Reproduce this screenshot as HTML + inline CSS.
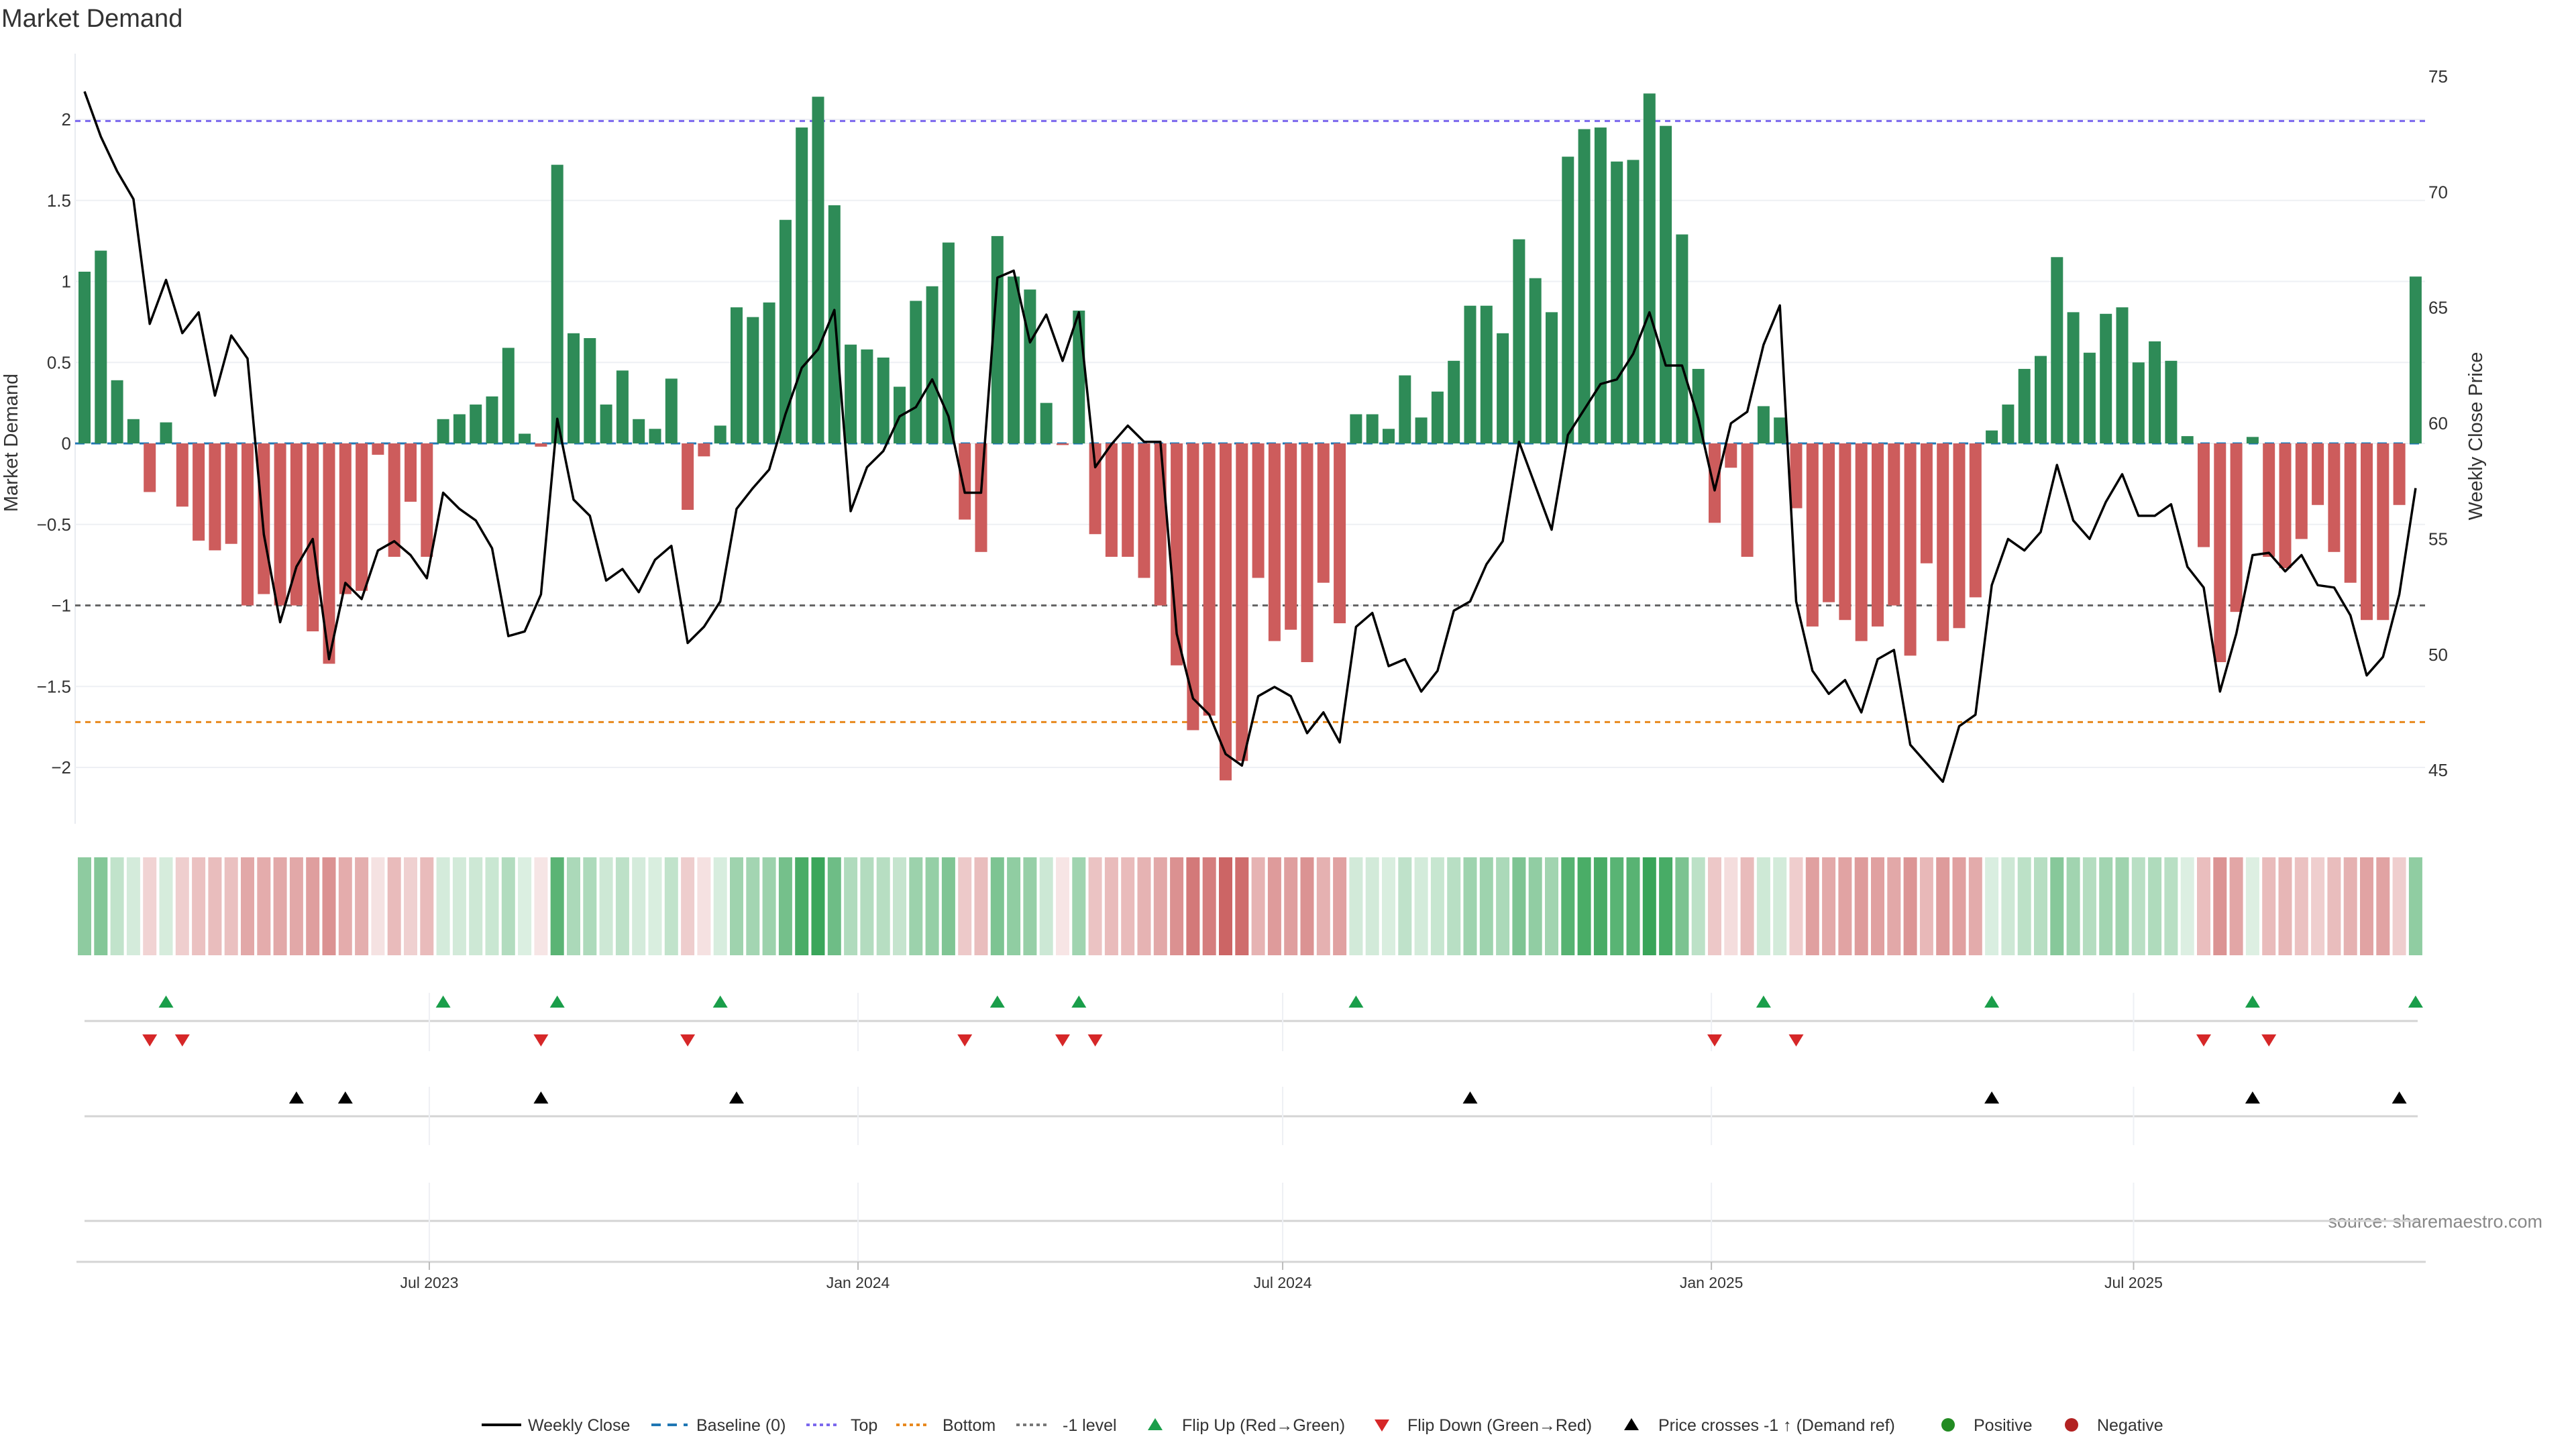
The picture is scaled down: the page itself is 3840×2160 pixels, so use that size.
<!DOCTYPE html>
<html><head><meta charset="utf-8"><title>Market Demand</title>
<style>
html,body{margin:0;padding:0;background:#fff;}
svg{display:block;font-family:"Liberation Sans","DejaVu Sans",sans-serif;}
</style></head>
<body>
<svg id="chart" xmlns="http://www.w3.org/2000/svg" width="3840" height="2160" viewBox="0 0 3840 2160">
<rect x="0" y="0" width="3840" height="2160" fill="#fff"/>
<text x="2" y="40" font-size="38" fill="#333">Market Demand</text>
<text transform="translate(26,660) rotate(-90)" text-anchor="middle" font-size="29" fill="#333">Market Demand</text>
<text transform="translate(3700,650) rotate(-90)" text-anchor="middle" font-size="29" fill="#333">Weekly Close Price</text>
<text x="3790" y="1830" text-anchor="end" font-size="27" fill="#888">source: sharemaestro.com</text>
<g id="g-grid"></g><g id="g-base"></g><g id="g-bars"></g><g id="g-line"></g><g id="g-heat"></g><g id="g-marks"></g><g id="g-legend"></g>
</svg>
<script>
const demand = [1.06,1.19,0.39,0.15,-0.30,0.13,-0.39,-0.60,-0.66,-0.62,
-1.00,-0.93,-1.00,-1.00,-1.16,-1.36,-0.93,-0.91,-0.07,-0.70,
-0.36,-0.70,0.15,0.18,0.24,0.29,0.59,0.06,-0.02,1.72,
0.68,0.65,0.24,0.45,0.15,0.09,0.40,-0.41,-0.08,0.11,
0.84,0.78,0.87,1.38,1.95,2.14,1.47,0.61,0.58,0.53,
0.35,0.88,0.97,1.24,-0.47,-0.67,1.28,1.03,0.95,0.25,
-0.01,0.82,-0.56,-0.70,-0.70,-0.83,-1.00,-1.37,-1.77,-1.68,
-2.08,-1.96,-0.83,-1.22,-1.15,-1.35,-0.86,-1.11,0.18,0.18,
0.09,0.42,0.16,0.32,0.51,0.85,0.85,0.68,1.26,1.02,
0.81,1.77,1.94,1.95,1.74,1.75,2.16,1.96,1.29,0.46,
-0.49,-0.15,-0.70,0.23,0.16,-0.40,-1.13,-0.98,-1.09,-1.22,
-1.13,-1.00,-1.31,-0.74,-1.22,-1.14,-0.95,0.08,0.24,0.46,
0.54,1.15,0.81,0.56,0.80,0.84,0.50,0.63,0.51,0.045,
-0.64,-1.35,-1.04,0.04,-0.70,-0.77,-0.59,-0.38,-0.67,-0.86,
-1.09,-1.09,-0.38,1.03];
const price = [74.35,72.4,70.9,69.7,64.3,66.2,63.9,64.8,61.2,63.8,
62.8,55.2,51.4,53.8,55.0,49.8,53.1,52.4,54.5,54.9,
54.3,53.3,57.0,56.3,55.8,54.6,50.8,51.0,52.6,60.2,
56.7,56.0,53.2,53.7,52.7,54.1,54.7,50.5,51.2,52.3,
56.3,57.2,58.0,60.4,62.4,63.2,64.9,56.2,58.1,58.8,
60.3,60.7,61.9,60.3,57.0,57.0,66.3,66.6,63.5,64.7,
62.7,64.8,58.1,59.1,59.9,59.2,59.2,50.9,48.1,47.4,
45.7,45.2,48.2,48.6,48.2,46.6,47.5,46.2,51.2,51.8,
49.5,49.8,48.4,49.3,51.9,52.3,53.9,54.9,59.2,57.3,
55.4,59.5,60.6,61.7,61.9,63.0,64.8,62.5,62.5,60.2,
57.1,60.0,60.5,63.4,65.1,52.3,49.3,48.3,48.9,47.5,
49.8,50.2,46.1,45.3,44.5,46.9,47.4,53.0,55.0,54.5,
55.3,58.2,55.8,55.0,56.6,57.8,56.0,56.0,56.5,53.8,
52.9,48.4,50.9,54.3,54.4,53.6,54.3,53.0,52.9,51.7,
49.1,49.9,52.6,57.2];
const flipUpWeeks = [5,22,29,39,56,61,78,103,117,133,143];
const flipDownWeeks = [4,6,28,37,54,60,62,100,105,130,134];
const crossUpWeeks = [13,16,28,40,85,117,133,142];
const leftTicks = [2,1.5,1,0.5,0,-0.5,-1,-1.5,-2];
const leftTickLabels = ["2","1.5","1","0.5","0","\u22120.5","\u22121","\u22121.5","\u22122"];
const rightTicks = [75,70,65,60,55,50,45];
const dateTickWeeks = [21.15,47.45,73.5,99.8,125.7];
const dateTickLabels = ["Jul 2023","Jan 2024","Jul 2024","Jan 2025","Jul 2025"];
const topLevel = 1.99, bottomLevel = -1.72, minusOneLevel = -1;

const NS="http://www.w3.org/2000/svg";
function mk(tag,attrs,parent,txt){const e=document.createElementNS(NS,tag);for(const k in attrs)e.setAttribute(k,attrs[k]);if(txt!==undefined)e.textContent=txt;parent.appendChild(e);return e;}
const X0=126, STEP=24.3, BW=18, PL=112, PR=3615;
const xs=i=>X0+i*STEP;
const yL=v=>661-v*241.5;
const yR=p=>114+(75-p)*34.47;
const gGrid=document.getElementById('g-grid'),gBase=document.getElementById('g-base'),gBars=document.getElementById('g-bars'),gLine=document.getElementById('g-line'),gHeat=document.getElementById('g-heat'),gMarks=document.getElementById('g-marks'),gLeg=document.getElementById('g-legend');

let ax=mk('line',{x1:PL,x2:PL,y1:80,y2:1228,stroke:'#e8ebf0','stroke-width':2},gGrid);


leftTicks.forEach((t,k)=>{
  const gl=mk('line',{x1:PL,x2:PR,y1:yL(t),y2:yL(t),stroke:'#eef0f4','stroke-width':2},gGrid);
  
  
  const tl=mk('text',{x:106,y:yL(t)+9,'text-anchor':'end','font-size':26,fill:'#333'},gGrid,leftTickLabels[k]);
  
  
});
rightTicks.forEach(t=>{
  const tl=mk('text',{x:3620,y:yR(t)+9,'font-size':26,fill:'#333'},gGrid,String(t));
  
  
});
[[topLevel,'#7b68ee','top-line'],[bottomLevel,'#e8891e','bottom-line'],[minusOneLevel,'#666','minus-one-line']].forEach(r=>{
  const l=mk('line',{x1:PL,x2:PR,y1:yL(r[0]),y2:yL(r[0]),stroke:r[1],'stroke-width':3,'stroke-dasharray':'8,7'},gBase);
  
  
});
const bl=mk('line',{x1:PL,x2:PR,y1:yL(0),y2:yL(0),stroke:'#1f77b4','stroke-width':3,'stroke-dasharray':'14,10'},gBase);



demand.forEach((v,i)=>{
  const y1=yL(Math.max(v,0)), y2=yL(Math.min(v,0));
  const b=mk('rect',{x:xs(i)-BW/2,y:y1,width:BW,height:Math.max(y2-y1,0.5),fill:v>=0?'#2e8b57':'#cd5c5c'},gBars);
  
  
});
const pts=price.map((p,i)=>xs(i).toFixed(1)+','+yR(p).toFixed(1)).join(' ');
const pl=mk('polyline',{points:pts,fill:'none',stroke:'#000','stroke-width':3.5,'stroke-linejoin':'round'},gLine);



demand.forEach((v,i)=>{
  const a=Math.min(0.95,0.15+0.37*Math.abs(v));
  const base=v>=0?[46,160,80]:[200,88,88];
  const c=base.map(ch=>Math.round(255-a*(255-ch)));
  const h=mk('rect',{x:xs(i)-10,y:1278,width:20,height:146,fill:'rgb('+c.join(',')+')'},gHeat);
  
  
});

[1522,1664,1820].forEach(y=>{
  const l=mk('line',{x1:X0,x2:3604,y1:y,y2:y,stroke:'#d4d4d4','stroke-width':3},gMarks);
  
  
});
const axl=mk('line',{x1:114,x2:3616,y1:1881,y2:1881,stroke:'#d4d4d4','stroke-width':3},gMarks);


dateTickWeeks.forEach((w,k)=>{
  const x=xs(w);
  [[1480,1567],[1620,1707],[1763,1880]].forEach(s=>{
    const g=mk('line',{x1:x,x2:x,y1:s[0],y2:s[1],stroke:'#eef0f4','stroke-width':2},gMarks);
    
    
  });
  const tk=mk('line',{x1:x,x2:x,y1:1881,y2:1893,stroke:'#bbb','stroke-width':2},gMarks);
  
  
  const t=mk('text',{x:x,y:1920,'text-anchor':'middle','font-size':23,fill:'#333'},gMarks,dateTickLabels[k]);
  
  
});
function tri(x,y,up,fill,parent){
  const w=11,h=9;
  const p=up?`${x-w},${y+h} ${x+w},${y+h} ${x},${y-h}`:`${x-w},${y-h} ${x+w},${y-h} ${x},${y+h}`;
  return mk('polygon',{points:p,fill:fill},parent);
}
flipUpWeeks.forEach(i=>{
  const t=tri(xs(i),1493,true,'#1a9e4a',gMarks);
  
  
});
flipDownWeeks.forEach(i=>{
  const t=tri(xs(i),1551,false,'#d62728',gMarks);
  
  
});
crossUpWeeks.forEach(i=>{
  const t=tri(xs(i),1636,true,'#000',gMarks);
  
  
});

const LY=2124;
function ltext(x,s,name){const t=mk('text',{x:x,y:LY+9,'font-size':25,fill:'#333'},gLeg,s);}
let e;
e=mk('line',{x1:718,x2:777,y1:LY,y2:LY,stroke:'#000','stroke-width':4},gLeg);


ltext(787,'Weekly Close','legend-weekly-close');
e=mk('line',{x1:971,x2:1025,y1:LY,y2:LY,stroke:'#1f77b4','stroke-width':4,'stroke-dasharray':'14,10'},gLeg);


ltext(1038,'Baseline (0)','legend-baseline');
e=mk('line',{x1:1202,x2:1250,y1:LY,y2:LY,stroke:'#7b68ee','stroke-width':4,'stroke-dasharray':'5,5'},gLeg);


ltext(1268,'Top','legend-top');
e=mk('line',{x1:1336,x2:1386,y1:LY,y2:LY,stroke:'#e8891e','stroke-width':4,'stroke-dasharray':'5,5'},gLeg);


ltext(1405,'Bottom','legend-bottom');
e=mk('line',{x1:1515,x2:1564,y1:LY,y2:LY,stroke:'#777','stroke-width':4,'stroke-dasharray':'5,5'},gLeg);


ltext(1584,'-1 level','legend-minus-one');
e=tri(1722,LY-1,true,'#1a9e4a',gLeg);


ltext(1762,'Flip Up (Red\u2192Green)','legend-flip-up');
e=tri(2060,LY+1,false,'#d62728',gLeg);


ltext(2098,'Flip Down (Green\u2192Red)','legend-flip-down');
e=tri(2432,LY-1,true,'#000',gLeg);


ltext(2472,'Price crosses -1 \u2191 (Demand ref)','legend-price-cross');
e=mk('circle',{cx:2904,cy:LY,r:10,fill:'#228b22'},gLeg);


ltext(2942,'Positive','legend-positive');
e=mk('circle',{cx:3088,cy:LY,r:10,fill:'#b22222'},gLeg);


ltext(3126,'Negative','legend-negative');
</script>
</body></html>
